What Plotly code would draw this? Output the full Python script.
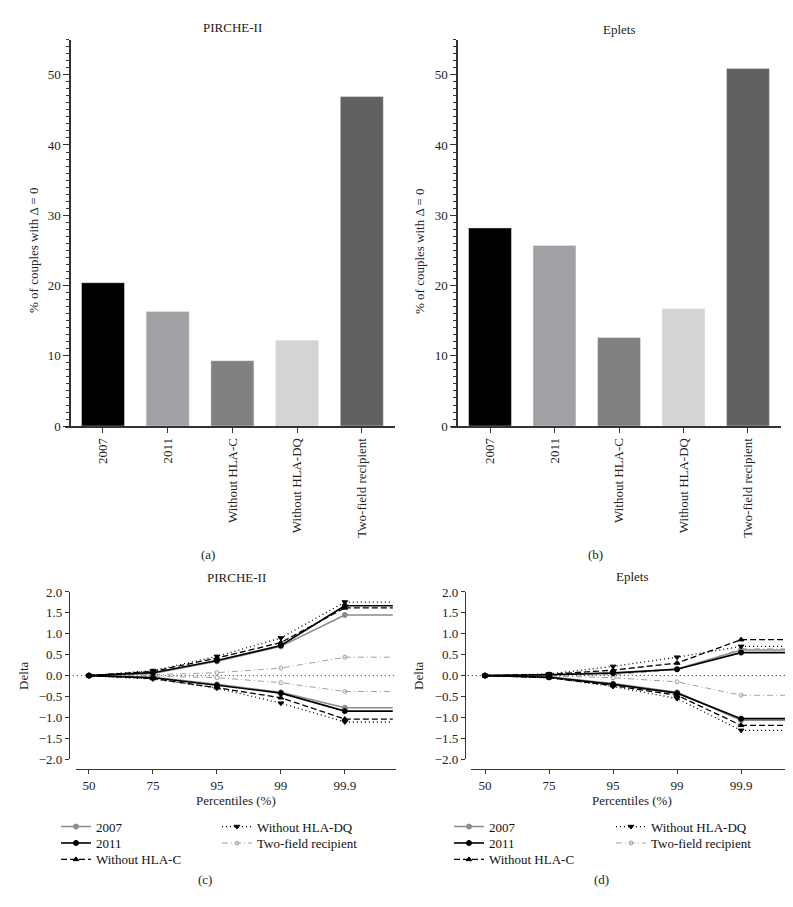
import plotly.graph_objects as go

# bar charts: % of couples with delta = 0
bar_labels = ['2007', '2011', 'Without HLA-C', 'Without HLA-DQ', 'Two-field recipient']
bar_colors = ['#000000', '#a1a1a5', '#808080', '#d4d4d4', '#616161']
pirche_bars = [20.4, 16.3, 9.3, 12.2, 46.9]
eplet_bars = [28.2, 25.7, 12.6, 16.7, 50.9]

# line charts: delta per percentile
percentiles = ['50', '75', '95', '99', '99.9']
series = ['2007', '2011', 'Without HLA-C', 'Without HLA-DQ', 'Two-field recipient']

pirche_up = {
    '2007': [0, 0.05, 0.34, 0.70, 1.45],
    '2011': [0, 0.07, 0.36, 0.72, 1.67],
    'Without HLA-C': [0, 0.10, 0.42, 0.79, 1.62],
    'Without HLA-DQ': [0, 0.12, 0.46, 0.90, 1.76],
    'Two-field recipient': [0, 0.02, 0.07, 0.18, 0.44],
}
pirche_low = {
    '2007': [0, -0.04, -0.21, -0.40, -0.77],
    '2011': [0, -0.05, -0.23, -0.42, -0.85],
    'Without HLA-C': [0, -0.07, -0.29, -0.53, -1.04],
    'Without HLA-DQ': [0, -0.08, -0.30, -0.66, -1.11],
    'Two-field recipient': [0, -0.01, -0.05, -0.17, -0.38],
}
eplet_up = {
    '2007': [0, 0.02, 0.07, 0.16, 0.61],
    '2011': [0, 0.02, 0.06, 0.15, 0.55],
    'Without HLA-C': [0, 0.03, 0.13, 0.30, 0.86],
    'Without HLA-DQ': [0, 0.04, 0.22, 0.44, 0.70],
    'Two-field recipient': [0, 0.01, 0.02, 0.14, 0.64],
}
eplet_low = {
    '2007': [0, -0.03, -0.19, -0.40, -1.07],
    '2011': [0, -0.04, -0.21, -0.42, -1.03],
    'Without HLA-C': [0, -0.05, -0.24, -0.47, -1.19],
    'Without HLA-DQ': [0, -0.05, -0.26, -0.55, -1.31],
    'Two-field recipient': [0, -0.01, -0.05, -0.15, -0.47],
}

styles = {
    '2007': dict(color='#8a8a8a', dash='solid', width=1.5, symbol='circle', size=5),
    '2011': dict(color='#000000', dash='solid', width=1.6, symbol='circle', size=5),
    'Without HLA-C': dict(color='#000000', dash='6px,3px', width=1.3, symbol='triangle-up', size=5),
    'Without HLA-DQ': dict(color='#000000', dash='1px,3px', width=1.3, symbol='triangle-down', size=5),
    'Two-field recipient': dict(color='#a0a0a0', dash='6px,3px,1px,3px', width=1, symbol='circle-open', size=4),
}
draw_order = ['Two-field recipient', '2007', 'Without HLA-DQ', 'Without HLA-C', '2011']
EXT_X = 4.75  # lines run on flat past the last percentile

# legend layout: (column, row) of each entry under the line charts
legend_slot = {'2007': (0, 0), '2011': (0, 1), 'Without HLA-C': (0, 2),
               'Without HLA-DQ': (1, 0), 'Two-field recipient': (1, 1)}

FONT = 'Liberation Serif'
W, H = 793, 907

fig = go.Figure()

fig.add_trace(go.Bar(x=bar_labels, y=pirche_bars, marker_color=bar_colors, width=0.665,
                     showlegend=False, xaxis='x', yaxis='y'))
fig.add_trace(go.Bar(x=bar_labels, y=eplet_bars, marker_color=bar_colors, width=0.665,
                     showlegend=False, xaxis='x2', yaxis='y2'))

xs = list(range(len(percentiles)))


def px(v):
    return v / W


def py(v):
    return 1 - v / H


legends = {}


def add_lines(up, low, xa, ya, panel, col_x):
    for name in draw_order:
        st = styles[name]
        col, row = legend_slot[name]
        leg = 'legend%d' % (len(legends) + 2)
        legends[leg] = dict(x=px(col_x[col]), y=py(810 + row * 16.7))
        for k, vals in enumerate([up[name], low[name]]):
            line = dict(color=st['color'], dash=st['dash'], width=st['width'])
            fig.add_trace(go.Scatter(
                x=xs, y=vals, mode='lines+markers', name=name, line=line,
                marker=dict(symbol=st['symbol'], size=st['size'], color=st['color'],
                            line=dict(width=1, color=st['color'])),
                showlegend=(k == 0), legend=leg,
                xaxis=xa, yaxis=ya))
            fig.add_trace(go.Scatter(
                x=[xs[-1], EXT_X], y=[vals[-1], vals[-1]], mode='lines', line=line,
                showlegend=False, hoverinfo='skip', xaxis=xa, yaxis=ya))


add_lines(pirche_up, pirche_low, 'x3', 'y3', 'c', [48, 209])
add_lines(eplet_up, eplet_low, 'x4', 'y4', 'd', [441, 603])

axis_font = dict(family=FONT, size=13, color='#222')
line_col = '#333'

bar_y = dict(range=[0, 55], dtick=10, ticks='outside', ticklen=6, tickwidth=1.2,
             tickcolor=line_col, showline=True, linecolor=line_col, linewidth=1.5,
             showgrid=False, zeroline=False, tickfont=axis_font, anchor='free',
             minor=dict(dtick=1, ticks='outside', ticklen=3, tickcolor=line_col, showgrid=False))
bar_x = dict(ticks='outside', ticklen=5, tickwidth=1.2, tickcolor=line_col, tickangle=-90,
             showline=True, linecolor=line_col, linewidth=1.5, showgrid=False,
             tickfont=axis_font)
line_y = dict(range=[-2, 2], dtick=0.5, tickformat='.1f', ticks='outside', ticklen=4,
              tickcolor=line_col, showline=True, linecolor=line_col, linewidth=1.3,
              showgrid=False, zeroline=False, tickfont=axis_font, anchor='free')
line_x = dict(tickvals=xs, ticktext=percentiles, ticks='outside', ticklen=4,
              tickcolor=line_col, showline=True, linecolor=line_col, linewidth=1.3,
              showgrid=False, zeroline=False, tickfont=axis_font, anchor='free')

leg_common = dict(font=dict(family=FONT, size=13, color='#111'), bgcolor='rgba(0,0,0,0)',
                  xanchor='left', yanchor='top', itemwidth=30)

fig.update_layout(
    width=W, height=H, margin=dict(l=0, r=0, t=0, b=0),
    plot_bgcolor='white', paper_bgcolor='white',
    font=dict(family=FONT, size=13, color='#222'),
    xaxis=dict(bar_x, domain=[px(57), px(387)], range=[-0.587, 4.513], anchor='y'),
    yaxis=dict(bar_y, domain=[py(418), py(25)], position=px(62)),
    xaxis2=dict(bar_x, domain=[px(443), px(773)], range=[-0.605, 4.512], anchor='y2'),
    yaxis2=dict(bar_y, domain=[py(418), py(25)], position=px(449)),
    xaxis3=dict(line_x, domain=[px(68), px(388)], range=[-0.203, 4.8], position=py(766.7)),
    yaxis3=dict(line_y, domain=[py(756.7), py(586.7)], position=px(61)),
    xaxis4=dict(line_x, domain=[px(463), px(783)], range=[-0.219, 4.78], position=py(766.7)),
    yaxis4=dict(line_y, domain=[py(756.7), py(586.7)], position=px(457)),
)
for leg, pos in legends.items():
    fig.update_layout({leg: dict(leg_common, **pos)})

for xa, ya in [('x3', 'y3'), ('x4', 'y4')]:
    fig.add_shape(type='line', xref=xa + ' domain', yref=ya, x0=-0.01, x1=1, y0=0, y1=0,
                  line=dict(color='#222', width=1, dash='1px,3px'), layer='below')

texts = [
    ('PIRCHE-II', 224, 13, 0), ('Eplets', 611, 15, 0),
    ('(a)', 200, 549, 0), ('(b)', 587, 549, 0),
    ('PIRCHE-II', 228, 572, 0), ('Eplets', 624, 571, 0),
    ('Percentiles (%)', 228, 799, 0), ('Percentiles (%)', 624, 799, 0),
    ('(c)', 197, 879, 0), ('(d)', 593, 879, 0),
    ('% of couples with Δ = 0', 25, 240, -90), ('% of couples with Δ = 0', 411, 240, -90),
    ('Delta', 16, 672, -90), ('Delta', 411, 672, -90),
]
for t, x, y, ang in texts:
    fig.add_annotation(text=t, x=px(x), y=py(y), xref='paper', yref='paper',
                       showarrow=False, textangle=ang, xanchor='center', yanchor='middle',
                       font=dict(family=FONT, size=13, color='#222'))

fig.write_html("out.html")
